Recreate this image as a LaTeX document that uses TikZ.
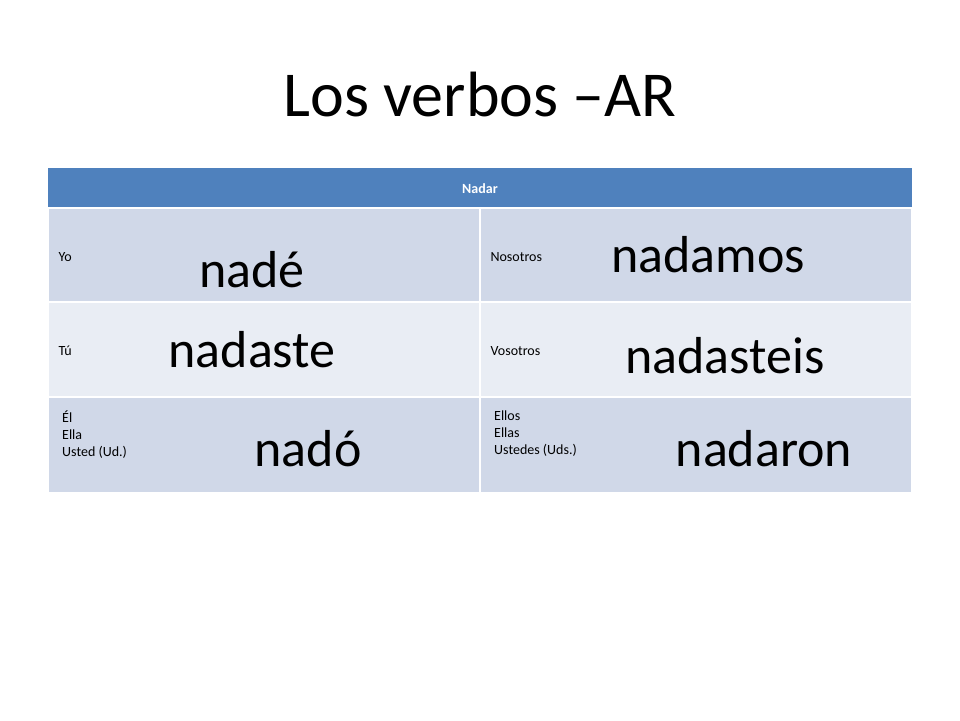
\documentclass[tikz,border=0pt]{standalone}
\usepackage{fontspec}
\setmainfont{Carlito}
\definecolor{hdr}{HTML}{4F81BD}
\definecolor{dk}{HTML}{D0D8E8}
\definecolor{lt}{HTML}{E9EDF4}
\begin{document}
\begin{tikzpicture}[x=1pt,y=-1pt,
 cell/.style={draw=white,line width=1.2pt},
 small/.style={font=\fontsize{14}{17}\selectfont,anchor=west,align=left},
 big/.style={font=\fontsize{52}{60}\selectfont}]
\useasboundingbox (0,0) rectangle (960,720);
\node (title) at (480,95) {\fontsize{64}{70}\selectfont Los verbos –AR};
\fill[hdr] (48,168) rectangle (912,208);
\node[font=\bfseries\fontsize{14}{17}\selectfont,text=white] (h) at (480,189) {Nadar};
\fill[cell,fill=dk] (48,208) rectangle (480,302);
\fill[cell,fill=dk] (480,208) rectangle (912,302);
\fill[cell,fill=lt] (48,302) rectangle (480,397);
\fill[cell,fill=lt] (480,302) rectangle (912,397);
\fill[cell,fill=dk] (48,397) rectangle (480,493);
\fill[cell,fill=dk] (480,397) rectangle (912,493);
\draw[white,line width=1.2pt] (48,208)--(912,208) (48,302)--(912,302) (48,397)--(912,397) (480,208)--(480,493);
\node[small] (yo) at (55,257) {Yo};
\node[small] (nos) at (487,257) {Nosotros};
\node[small] (tu) at (55,351) {Tú};
\node[small] (vos) at (487,351) {Vosotros};
\node[small,anchor=north west,inner sep=0pt] (el) at (62,411) {Él\\Ella\\Usted (Ud.)};
\node[small,anchor=north west,inner sep=0pt] (ellos) at (494,411) {Ellos\\Ellas\\Ustedes (Uds.)};
\node[big] (w1) at (252,270) {nadé};
\node[big] (w2) at (708,255) {nadamos};
\node[big] (w3) at (252,350) {nadaste};
\node[big] (w4) at (725,356) {nadasteis};
\node[big] (w5) at (308,449) {nadó};
\node[big] (w6) at (764,449) {nadaron};
\end{tikzpicture}
\end{document}
